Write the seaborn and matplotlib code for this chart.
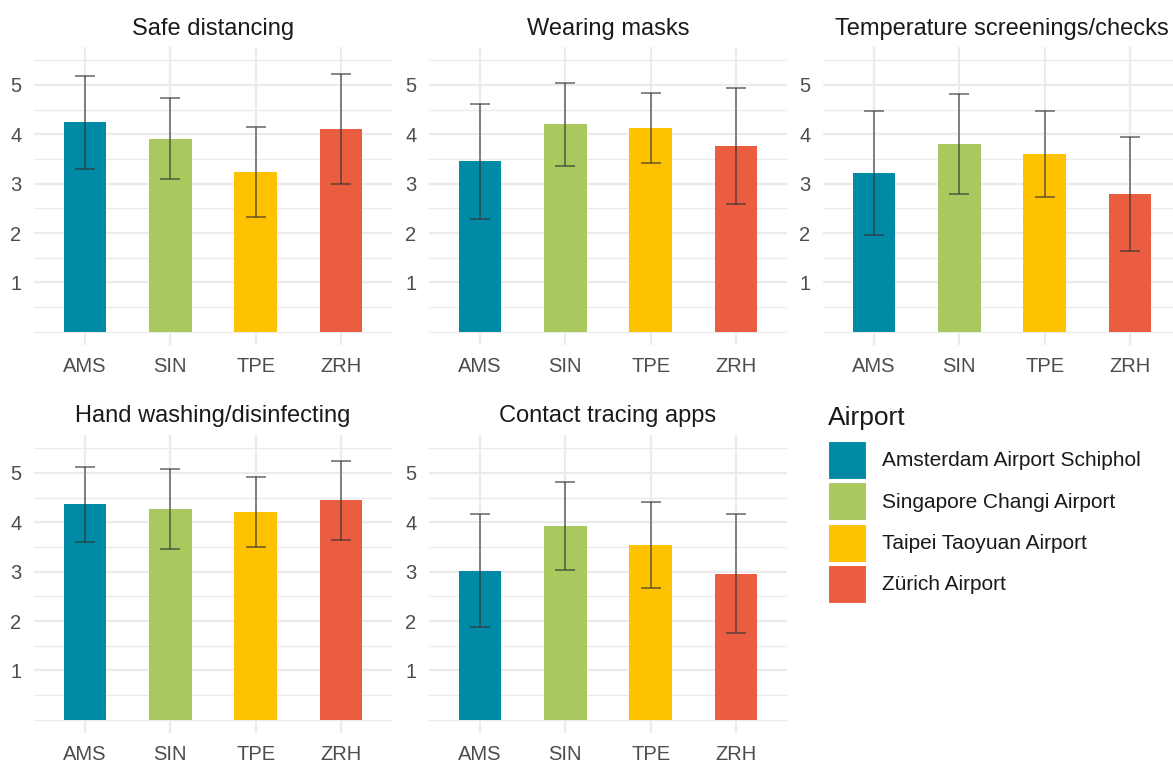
import matplotlib
matplotlib.use("Agg")
import matplotlib.pyplot as plt
from matplotlib.patches import Patch
import seaborn as sns
import pandas as pd

codes = ["AMS", "SIN", "TPE", "ZRH"]
airports = ["Amsterdam Airport Schiphol", "Singapore Changi Airport",
            "Taipei Taoyuan Airport", "Zürich Airport"]
colors = ["#008AA5", "#A9C95F", "#FFC200", "#EA5D40"]

measures = ["Safe distancing", "Wearing masks", "Temperature screenings/checks",
            "Hand washing/disinfecting", "Contact tracing apps"]

# mean score and sd per measure, order AMS, SIN, TPE, ZRH
safe_mean = [4.24, 3.91, 3.24, 4.11]
safe_sd = [0.95, 0.82, 0.91, 1.11]
masks_mean = [3.45, 4.20, 4.13, 3.76]
masks_sd = [1.16, 0.85, 0.71, 1.18]
temp_mean = [3.22, 3.81, 3.60, 2.79]
temp_sd = [1.26, 1.01, 0.88, 1.15]
hand_mean = [4.37, 4.27, 4.21, 4.45]
hand_sd = [0.76, 0.81, 0.70, 0.80]
contact_mean = [3.02, 3.92, 3.54, 2.96]
contact_sd = [1.15, 0.89, 0.88, 1.21]

means = [safe_mean, masks_mean, temp_mean, hand_mean, contact_mean]
sds = [safe_sd, masks_sd, temp_sd, hand_sd, contact_sd]

rows = []
for m, mu, sd in zip(measures, means, sds):
    for c, v, s in zip(codes, mu, sd):
        rows.append({"measure": m, "code": c, "mean": v, "sd": s})
df = pd.DataFrame(rows)

sns.set_theme(style="white")
plt.rcParams["font.family"] = ["Liberation Sans", "DejaVu Sans"]

W, H = 1173, 763
fig = plt.figure(figsize=(W / 100, H / 100), dpi=100)

# panel rectangles in pixels: left, top, right, bottom
col_x = [(34, 392), (429, 787), (823, 1181)]
row_y = [(47, 345), (435, 733)]
grid_c = "#EBEBEB"

for i, m in enumerate(measures):
    r, c = divmod(i, 3)
    x0, x1 = col_x[c]
    y0, y1 = row_y[r]
    ax = fig.add_axes([x0 / W, 1 - y1 / H, (x1 - x0) / W, (y1 - y0) / H])
    sub = df[df["measure"] == m]
    sns.barplot(data=sub, x="code", y="mean", hue="code", palette=colors,
                order=codes, hue_order=codes, width=0.5, legend=False,
                errorbar=None, saturation=1, ax=ax, linewidth=0)
    ax.errorbar(range(len(codes)), sub["mean"], yerr=sub["sd"], fmt="none",
                ecolor="#333333", alpha=0.75, elinewidth=1.1, capsize=7.5,
                capthick=1.1)
    ax.set_xlim(-0.6, 3.6)
    ax.set_ylim(-0.27, 5.77)
    ax.set_yticks([1, 2, 3, 4, 5])
    ax.set_yticks([0, 0.5, 1.5, 2.5, 3.5, 4.5, 5.5], minor=True)
    ax.set_axisbelow(True)
    ax.grid(which="major", axis="y", color=grid_c, lw=1.6)
    ax.grid(which="minor", axis="y", color=grid_c, lw=1.0)
    ax.grid(which="major", axis="x", color=grid_c, lw=1.6)
    for s in ax.spines.values():
        s.set_visible(False)
    ax.tick_params(axis="both", which="both", length=0, labelsize=14.5,
                   labelcolor="#4D4D4D")
    ax.tick_params(axis="y", pad=9)
    ax.tick_params(axis="x", pad=9)
    ax.set_xlabel("")
    ax.set_ylabel("")
    ax.set_title(m, fontsize=17, color="#1A1A1A", pad=9)

# legend: title as separate text so the gap to the keys matches
fig.text(828 / W, 1 - 425 / H, "Airport", fontsize=19, color="#1A1A1A",
         ha="left", va="baseline")
handles = [Patch(facecolor=col, edgecolor="white", lw=0.8) for col in colors]
leg = fig.legend(handles, airports, loc="upper left",
                 bbox_to_anchor=(828 / W, 1 - 441 / H), frameon=False,
                 fontsize=15, handlelength=1.83,
                 handleheight=2.43, labelspacing=0.157, handletextpad=0.78,
                 borderpad=0, borderaxespad=0)
for t in leg.get_texts():
    t.set_color("#1A1A1A")

fig.savefig("out.png", dpi=100)
